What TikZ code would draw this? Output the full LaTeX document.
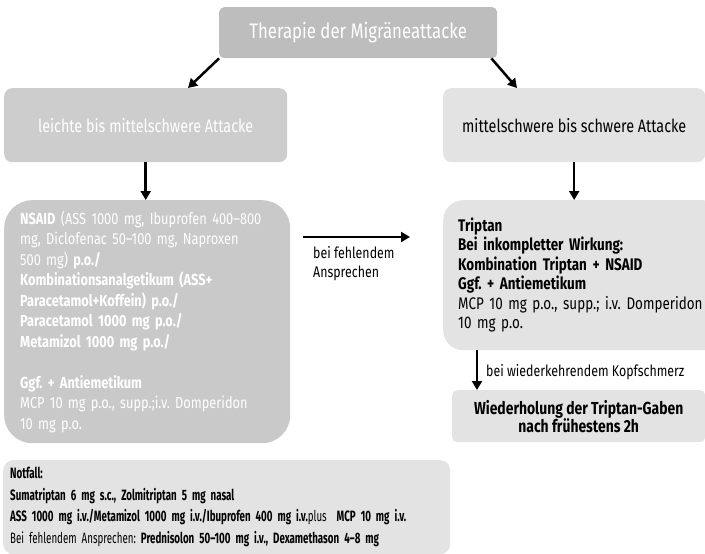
\documentclass[tikz,border=0pt]{standalone}
\usepackage{fontspec}
\setmainfont{Fira Sans}[FakeStretch=0.8]
\frenchspacing
\usetikzlibrary{arrows.meta}
\definecolor{grauDunkel}{HTML}{BDBDBD}
\definecolor{grauMittel}{HTML}{CDCDCD}
\definecolor{grauLinks}{HTML}{C9C9C9}
\definecolor{grauHell}{HTML}{E3E3E3}
\newcommand{\fs}[2]{\fontsize{#1}{#2}\selectfont}

\begin{document}
\begin{tikzpicture}[x=1pt,y=-1pt,
    kasten/.style={rectangle,rounded corners=#1,anchor=north west,inner sep=0pt},
    kasten/.default=6pt,
    pfeil/.style={-{Triangle[length=9pt,width=10pt]},line width=2.5pt}]
    \useasboundingbox (0,0) rectangle (705,554);
    % Kopf
    \node[kasten=5pt,fill=grauDunkel,minimum width=278,minimum height=51,text=white,font=\fs{21}{25}] (titel) at (219,7) {Therapie der Migräneattacke};
    \node[kasten=8pt,fill=grauMittel,minimum width=283,minimum height=74,text=white,font=\fs{18}{21}] (leicht) at (4,88) {leichte bis mittelschwere Attacke};
    \node[kasten=8pt,fill=grauHell,minimum width=262,minimum height=74,font=\fs{18}{21}] (schwer) at (443,88) {mittelschwere bis schwere Attacke};
    % Behandlung
    \node[kasten=28pt,fill=grauLinks,text width=254,inner xsep=16,minimum height=243,align=left,text=white,font=\fs{16}{20.5}] (nsaid) at (4,200)
        {\textbf{NSAID} (ASS 1000 mg, Ibuprofen 400–800\\
         mg, Diclofenac 50–100 mg, Naproxen\\
         500 mg) \textbf{p.o./}\\
         \textbf{Kombinationsanalgetikum (ASS+}\\
         \textbf{Paracetamol+Koffein) p.o./}\\
         \textbf{Paracetamol 1000 mg p.o./}\\
         \textbf{Metamizol 1000 mg p.o./}\\[20.5pt]
         \textbf{Ggf. + Antiemetikum}\\
         MCP 10 mg p.o., supp.;i.v. Domperidon\\
         10 mg p.o.};
    \node[kasten=20pt,fill=grauHell,text width=250,inner xsep=15,minimum height=150,align=left,font=\fs{16.8}{19.5}] (triptan) at (443,200)
        {\textbf{Triptan}\\
         \textbf{Bei inkompletter Wirkung:}\\
         \textbf{Kombination Triptan + NSAID}\\
         \textbf{Ggf. + Antiemetikum}\\
         MCP 10 mg p.o., supp.; i.v. Domperidon\\
         10 mg p.o.};
    \node[kasten=5pt,fill=grauHell,minimum width=253,minimum height=52,align=center,font=\bfseries\fs{17.4}{18}] (wdh) at (452,390)
        {Wiederholung der Triptan-Gaben\\nach frühestens 2h};
    \node[kasten=10pt,fill=grauHell,text width=433,inner xsep=7,minimum height=94,align=left,font=\fs{15}{21.5}\addfontfeature{FakeStretch=0.65}] (notfall) at (3,460)
        {\textbf{Notfall:}\\
         \textbf{Sumatriptan 6 mg s.c., Zolmitriptan 5 mg nasal}\\
         \textbf{ASS 1000 mg i.v./Metamizol 1000 mg i.v./Ibuprofen 400 mg i.v.}plus\ \ \textbf{MCP 10 mg i.v.}\\
         Bei fehlendem Ansprechen: \textbf{Prednisolon 50–100 mg i.v., Dexamethason 4–8 mg}};
    % Pfeile
    \draw[pfeil] (titel.south west) -- ([xshift=184]leicht.north west);
    \draw[pfeil] ([xshift=-6]titel.south east) -- ([xshift=74]schwer.north west);
    \draw[pfeil] (leicht.south) -- (leicht.south |- nsaid.north);
    \draw[pfeil] (schwer.south) -- (schwer.south |- triptan.north);
    \coordinate (m1) at (303,237);
    \coordinate (m2) at (410,237);
    \draw[pfeil] (m1) -- (m2);
    \node[anchor=north west,inner sep=0pt,align=left,font=\fs{15.5}{19}] (fehl) at (313,246) {bei fehlendem\\Ansprechen};
    \draw[pfeil] ([xshift=34]triptan.south west) -- ([xshift=34]triptan.south west |- wdh.north);
    \node[anchor=west,inner sep=0pt,font=\fs{15.5}{17}] (kopf) at (486,372) {bei wiederkehrendem Kopfschmerz};
\end{tikzpicture}
\end{document}
